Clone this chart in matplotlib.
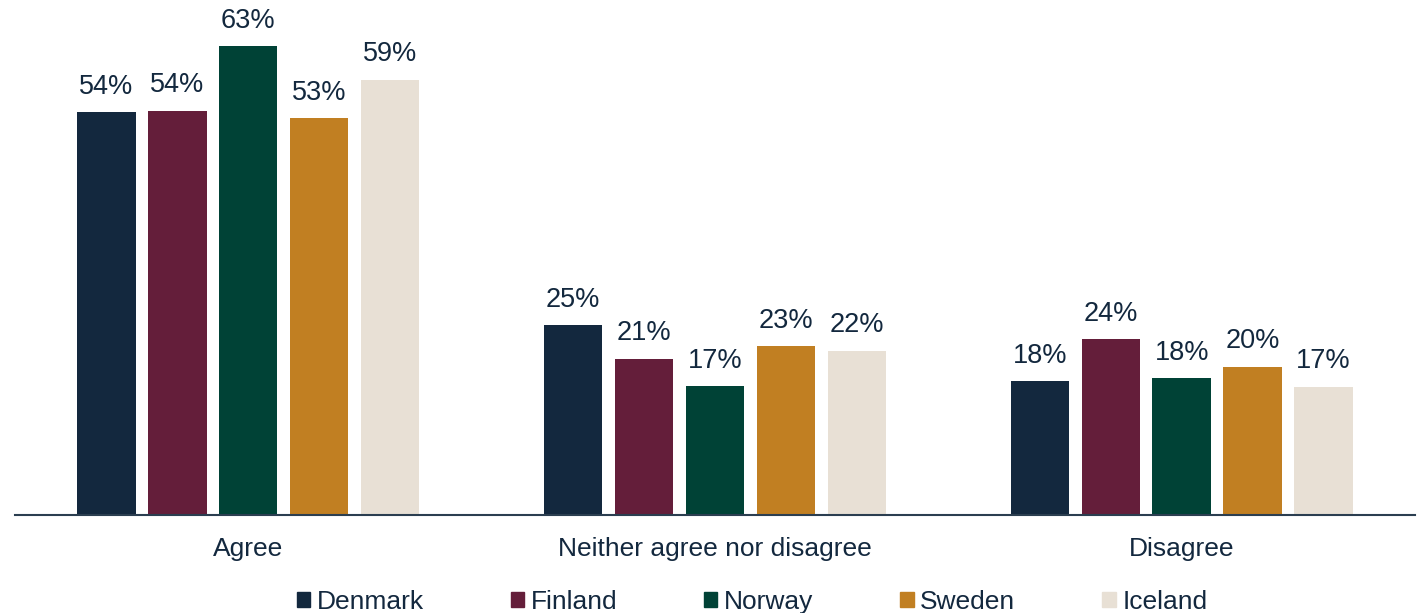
import matplotlib.pyplot as plt
from matplotlib.patches import Patch
import numpy as np

plt.rcParams['font.family'] = ['Liberation Sans', 'DejaVu Sans']

categories = ['Agree', 'Neither agree nor disagree', 'Disagree']
countries = ['Denmark', 'Finland', 'Norway', 'Sweden', 'Iceland']
colors = ['#13283E', '#641E3A', '#004236', '#C17F22', '#E8E0D5']
values = {
    'Denmark': [54.1, 25.5, 18.0],
    'Finland': [54.3, 21.0, 23.6],
    'Norway': [63.0, 17.3, 18.4],
    'Sweden': [53.3, 22.7, 19.9],
    'Iceland': [58.5, 22.1, 17.2],
}
labels = {
    'Denmark': ['54%', '25%', '18%'],
    'Finland': ['54%', '21%', '24%'],
    'Norway': ['63%', '17%', '18%'],
    'Sweden': ['53%', '23%', '20%'],
    'Iceland': ['59%', '22%', '17%'],
}

text_col = '#13283E'
fig = plt.figure(figsize=(14.24, 6.13), dpi=100)
ax = fig.add_axes([15 / 1424, 1 - 515 / 613, 1400 / 1424, 515 / 613])

x = np.arange(len(categories))
step = 0.152
width = 0.125
for i, c in enumerate(countries):
    pos = x + (i - 2) * step
    bars = ax.bar(pos, values[c], width, color=colors[i], label=c)
    for b, lab in zip(bars, labels[c]):
        ax.annotate(lab, (b.get_x() + b.get_width() / 2, b.get_height()),
                    xytext=(0, 9), textcoords='offset points',
                    ha='center', va='bottom', fontsize=19.5, color=text_col)

ax.set_xlim(-0.5, 2.5)
ax.set_ylim(0, 69.2)
ax.set_xticks(x)
ax.set_xticklabels(categories, fontsize=19, color=text_col)
ax.tick_params(axis='x', length=0, pad=15.5)
ax.set_yticks([])
for s in ['top', 'right', 'left']:
    ax.spines[s].set_visible(False)
ax.spines['bottom'].set_color('#2B3E50')
ax.spines['bottom'].set_linewidth(1.5)

handles = [Patch(color=colors[i], label=c) for i, c in enumerate(countries)]
leg = fig.legend(handles=handles, loc='center', bbox_to_anchor=(752 / 1424, 11 / 613),
                 ncol=5, frameon=False, fontsize=19, handlelength=0.5, handleheight=0.5,
                 handletextpad=0.25, columnspacing=3.3, borderpad=0)
for t in leg.get_texts():
    t.set_color(text_col)

plt.savefig('out.png', dpi=100)
